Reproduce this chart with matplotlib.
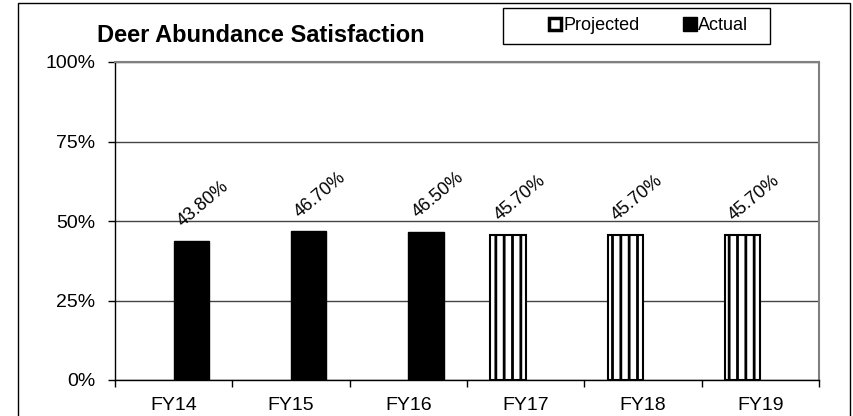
import numpy as np
import matplotlib.pyplot as plt
from matplotlib.lines import Line2D
from matplotlib.patches import Rectangle

plt.rcParams['font.family'] = ['Liberation Sans', 'DejaVu Sans']
plt.rcParams['hatch.linewidth'] = 2.0

years = ['FY14', 'FY15', 'FY16', 'FY17', 'FY18', 'FY19']
actual = [0.438, 0.467, 0.465, np.nan, np.nan, np.nan]
projected = [np.nan, np.nan, np.nan, 0.457, 0.457, 0.457]

W, H = 854, 416
fig = plt.figure(figsize=(W / 100, H / 100), dpi=100)
ax = fig.add_axes([115 / W, (H - 380) / H, (819 - 115) / W, (380 - 62) / H])

x = np.arange(len(years))
bw = 0.30
ax.bar(x - bw / 2, projected, bw, color='white', edgecolor='black',
       hatch='||', linewidth=1.5, zorder=3)
ax.bar(x + bw / 2, actual, bw, color='black', edgecolor='black', zorder=3)

# value labels, tilted like the spreadsheet version
for xs, vals in ((x - bw / 2, projected), (x + bw / 2, actual)):
    for xi, v in zip(xs, vals):
        if np.isnan(v):
            continue
        ax.annotate(f'{v * 100:.2f}%', (xi, v), xytext=(8.5, 26.5),
                    textcoords='offset points', ha='center', va='center',
                    rotation=40, fontsize=13, zorder=4)

ax.set_xlim(-0.5, len(years) - 0.5)
ax.set_ylim(0, 1)
ax.set_yticks([0, 0.25, 0.5, 0.75, 1.0])
ax.set_yticklabels(['0%', '25%', '50%', '75%', '100%'])
ax.yaxis.grid(True, color='#444444', linewidth=1, zorder=0)

ax.set_xticks(x)
ax.set_xticklabels(years)
ax.set_xticks(np.arange(-0.5, len(years)), minor=True)
ax.tick_params(axis='x', which='major', length=0, pad=12, labelsize=14)
ax.tick_params(axis='x', which='minor', length=5, width=1, direction='out')
ax.tick_params(axis='y', length=5, width=1, direction='out', pad=9, labelsize=14)

for s in ('top', 'right'):
    ax.spines[s].set_color('#808080')
    ax.spines[s].set_linewidth(1.5)
for s in ('left', 'bottom'):
    ax.spines[s].set_color('black')
    ax.spines[s].set_linewidth(1)

fig.text(97 / W, 1 - 36 / H, 'Deer Abundance Satisfaction', ha='left',
         va='center', fontsize=17, fontweight='bold')

handles = [
    Line2D([], [], linestyle='none', marker='s', markersize=8.5,
           markerfacecolor='white', markeredgecolor='black', markeredgewidth=2.5),
    Line2D([], [], linestyle='none', marker='s', markersize=10,
           markerfacecolor='black', markeredgecolor='black'),
]
leg = fig.legend(handles, ['Projected', 'Actual'], loc='center',
                 bbox_to_anchor=(648 / W, 1 - 26 / H), ncol=2, fontsize=13,
                 frameon=False, handlelength=0.8, handletextpad=0.05,
                 columnspacing=2.4)
fig.patches.append(Rectangle((503 / W, 1 - 44 / H), 267 / W, 36 / H,
                             transform=fig.transFigure, fill=False,
                             edgecolor='black', linewidth=1))

fig.patches.append(Rectangle((18 / W, -0.05), (850 - 18) / W, (H - 3) / H + 0.05,
                             transform=fig.transFigure, fill=False,
                             edgecolor='black', linewidth=1))

fig.savefig('out.png', dpi=100)
